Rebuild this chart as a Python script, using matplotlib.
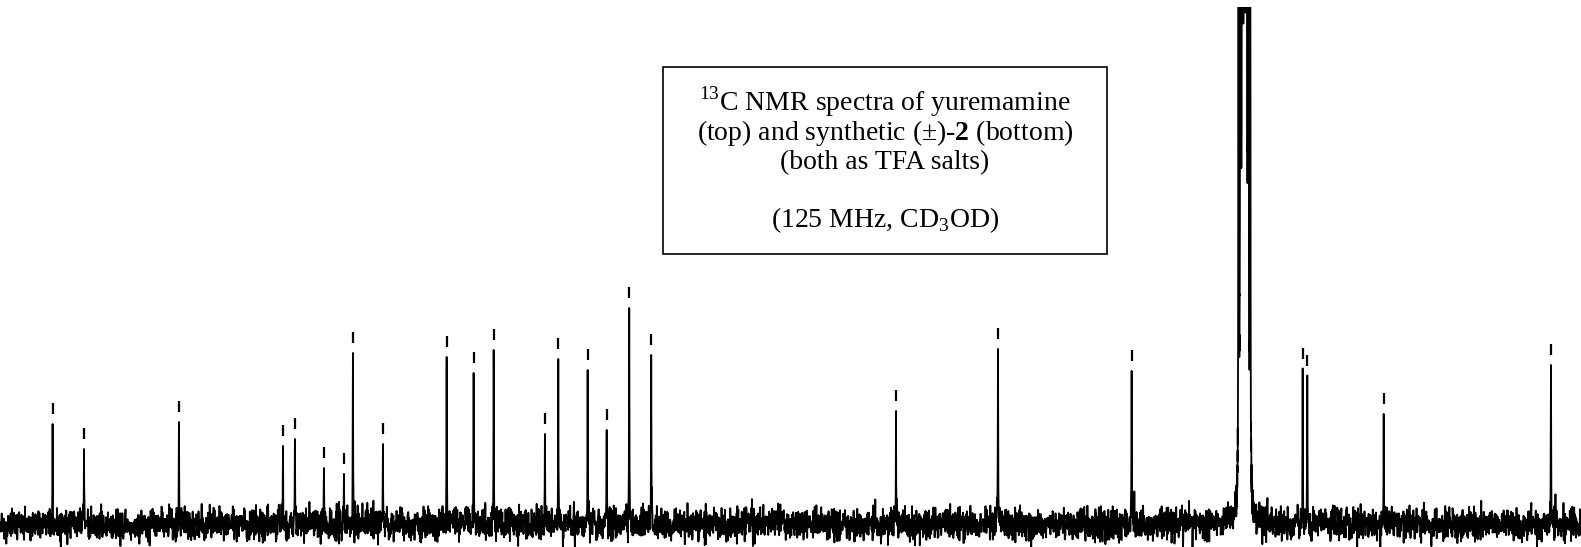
import numpy as np
import matplotlib
matplotlib.use('Agg')
import matplotlib.pyplot as plt
from matplotlib.patches import Rectangle

plt.rcParams['font.family'] = ['Liberation Serif', 'DejaVu Serif']
plt.rcParams['mathtext.fontset'] = 'custom'
plt.rcParams['mathtext.rm'] = 'Liberation Serif'
plt.rcParams['mathtext.bf'] = 'Liberation Serif:bold'

# picked 13C signals: shift (ppm) and peak height (arbitrary units)
peak_ppm = [154.21, 151.44, 143.06, 133.88, 132.83, 130.27, 128.50, 127.71, 125.06,
            119.44, 117.06, 115.29, 110.77, 109.59, 107.00, 105.32, 103.33, 101.39,
            79.79, 70.79, 59.00, 43.91, 43.50, 36.76, 22.00]
peak_height = [100, 75, 102, 78, 85, 56, 50, 171, 80,
               167, 151, 174, 90, 165, 154, 94, 216, 169,
               113, 175, 153, 155, 148, 110, 159]

# CD3OD solvent septet (goes far off scale)
solvent_ppm = 49.05
solvent_J = 0.172
solvent_ratio = [1, 3, 6, 7, 6, 3, 1]
solvent_unit = 700

ppm_left, ppm_right = 158.85, 19.35


def lorentz(x, x0, h, hw):
    return h * hw ** 2 / ((x - x0) ** 2 + hw ** 2)


def main():
    peaks = np.array(peak_ppm)
    solvent_lines = solvent_ppm + (np.arange(7) - 3) * solvent_J

    x = np.linspace(ppm_left, ppm_right, 6500)
    x = np.union1d(x, np.linspace(solvent_ppm - 0.8, solvent_ppm + 0.8, 300))
    # keep grid points off the peak centres so noise can't push a spike past its top
    near = np.min(np.abs(x[:, None] - peaks[None, :]), axis=1) < 0.014
    x = np.union1d(x[~near], np.concatenate([peaks, solvent_lines]))[::-1]

    rng = np.random.default_rng(7)
    noise = rng.normal(0, 7.8, x.size)
    noise[np.isin(x, peaks)] = 0
    y = noise.copy()

    for p, h in zip(peak_ppm, peak_height):
        y += lorentz(x, p, h, 0.018)
    for c, r in zip(solvent_lines, solvent_ratio):
        y += lorentz(x, c, solvent_unit * r, 0.02)

    fig = plt.figure(figsize=(15.81, 5.47), dpi=100)
    ax = fig.add_axes([0, 0, 1, 540 / 547])
    ax.plot(x, y, color='black', lw=1.3)

    # peak-pick marks above each signal
    tops = np.array(peak_height)
    ax.vlines(peak_ppm, tops + 10.5, tops + 21.5, color='black', lw=1.6)

    ax.set_xlim(ppm_left, ppm_right)
    ax.set_ylim(-23, 517)
    ax.axis('off')

    # caption box
    W, H = 1581, 547
    fig.patches.append(Rectangle((663 / W, 1 - 254 / H), 444 / W, 187 / H,
                                 transform=fig.transFigure, fill=False,
                                 edgecolor='black', lw=1.2))
    cx = 885 / W
    lines = [
        (111, r'$^{13}$C NMR spectra of yuremamine'),
        (140, r'(top) and synthetic ($\pm$)-$\mathbf{2}$ (bottom)'),
        (169, '(both as TFA salts)'),
        (227, r'(125 MHz, CD$_3$OD)'),
    ]
    for yb, s in lines:
        fig.text(cx, 1 - yb / H, s, ha='center', va='baseline', fontsize=20)

    fig.savefig('out.png', dpi=100)
    plt.close(fig)


if __name__ == "__main__":
    main()
